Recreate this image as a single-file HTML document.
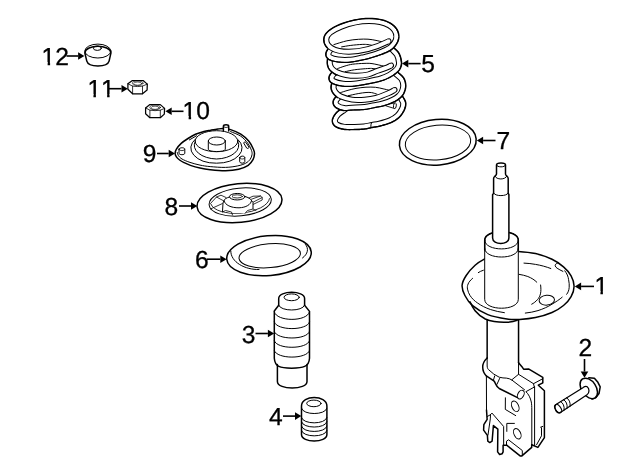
<!DOCTYPE html>
<html lang="en"><head><meta charset="utf-8"><title>Front suspension strut parts diagram</title>
<style>
html,body{margin:0;padding:0;background:#fff;}
body{width:640px;height:471px;overflow:hidden;}
svg{display:block;will-change:transform;}
text{font-family:"Liberation Sans",Arial,Helvetica,sans-serif;font-size:24.6px;fill:#000;font-kerning:none;text-rendering:geometricPrecision;stroke:#000;stroke-width:0.3px;}
.p path,.p ellipse{fill:none;stroke:#000;stroke-linecap:round;stroke-linejoin:round;}
.o{stroke-width:1.5;}
.t{stroke-width:1.0;}
.u{stroke-width:0.8;}
.m{stroke-width:1.25;}
.v{stroke-width:0.6;}
.p path.w,.p ellipse.w{fill:#fff;}
</style></head><body>
<svg width="640" height="471" viewBox="0 0 640 471">
<rect width="640" height="471" fill="#fff"/>
<g class="lbl">
<text x="41.6" y="65" text-anchor="start">12</text>
<text x="87.4" y="97.4" text-anchor="start">11</text>
<text x="182.6" y="119" text-anchor="start">10</text>
<text x="142.8" y="162" text-anchor="start">9</text>
<text x="164.5" y="214.8" text-anchor="start">8</text>
<text x="195.0" y="267.7" text-anchor="start">6</text>
<text x="241.8" y="343.2" text-anchor="start">3</text>
<text x="269.1" y="424.8" text-anchor="start">4</text>
<text x="421.3" y="72.2" text-anchor="start">5</text>
<text x="496.5" y="148.6" text-anchor="start">7</text>
<text x="594.4" y="294" text-anchor="start">1</text>
<text x="578.5" y="356" text-anchor="start">2</text>
</g>
<g class="mk"><rect x="42.27" y="62.00" width="5.36" height="4" fill="#fff"/><rect x="50.11" y="62.00" width="5.17" height="4" fill="#fff"/><rect x="88.07" y="94.00" width="5.36" height="4" fill="#fff"/><rect x="95.91" y="94.00" width="5.17" height="4" fill="#fff"/><rect x="101.76" y="94.00" width="5.36" height="4" fill="#fff"/><rect x="109.59" y="94.00" width="5.17" height="4" fill="#fff"/><rect x="183.27" y="116.00" width="5.36" height="4" fill="#fff"/><rect x="191.11" y="116.00" width="5.17" height="4" fill="#fff"/><rect x="595.07" y="291.00" width="5.36" height="4" fill="#fff"/><rect x="602.91" y="291.00" width="5.17" height="4" fill="#fff"/></g>
<g class="arr">
<path d="M66.50 56.00L78.10 56.00" stroke="#000" stroke-width="1.6" fill="none"/><path d="M84.40 56.00L78.10 59.80L78.10 52.20Z" fill="#000" stroke="none"/>
<path d="M109.00 88.70L121.50 88.70" stroke="#000" stroke-width="1.6" fill="none"/><path d="M127.80 88.70L121.50 92.50L121.50 84.90Z" fill="#000" stroke="none"/>
<path d="M183.50 111.30L171.70 111.30" stroke="#000" stroke-width="1.6" fill="none"/><path d="M165.40 111.30L171.70 107.50L171.70 115.10Z" fill="#000" stroke="none"/>
<path d="M157.00 153.50L168.70 153.50" stroke="#000" stroke-width="1.6" fill="none"/><path d="M175.00 153.50L168.70 157.30L168.70 149.70Z" fill="#000" stroke="none"/>
<path d="M179.00 206.00L191.00 206.00" stroke="#000" stroke-width="1.6" fill="none"/><path d="M197.30 206.00L191.00 209.80L191.00 202.20Z" fill="#000" stroke="none"/>
<path d="M207.00 259.20L220.30 259.20" stroke="#000" stroke-width="1.6" fill="none"/><path d="M226.60 259.20L220.30 263.00L220.30 255.40Z" fill="#000" stroke="none"/>
<path d="M255.50 333.50L267.90 333.50" stroke="#000" stroke-width="1.6" fill="none"/><path d="M274.20 333.50L267.90 337.30L267.90 329.70Z" fill="#000" stroke="none"/>
<path d="M283.00 416.10L295.00 416.10" stroke="#000" stroke-width="1.6" fill="none"/><path d="M301.30 416.10L295.00 419.90L295.00 412.30Z" fill="#000" stroke="none"/>
<path d="M420.60 63.60L408.30 63.60" stroke="#000" stroke-width="1.6" fill="none"/><path d="M402.00 63.60L408.30 59.80L408.30 67.40Z" fill="#000" stroke="none"/>
<path d="M495.50 140.50L483.10 140.50" stroke="#000" stroke-width="1.6" fill="none"/><path d="M476.80 140.50L483.10 136.70L483.10 144.30Z" fill="#000" stroke="none"/>
<path d="M594.00 286.40L581.10 286.40" stroke="#000" stroke-width="1.6" fill="none"/><path d="M574.80 286.40L581.10 282.60L581.10 290.20Z" fill="#000" stroke="none"/>
<path d="M584.50 359.00L584.50 371.50" stroke="#000" stroke-width="1.6" fill="none"/><path d="M584.50 377.80L580.70 371.50L588.30 371.50Z" fill="#000" stroke="none"/>
</g>
<g class="p" id="p12">
<path class="o" d="M84.9 53.2 L86.8 61.1 C88.5 67.5 107.3 67.5 109.1 61.1 L110.9 53.2"/>
<ellipse class="t" cx="97.9" cy="51.05" rx="13.05" ry="6.95"/>
<path class="o" d="M84.9 52.5 A13.05 6.95 0 0 1 110.9 52.5"/>
<ellipse class="t" cx="97.4" cy="48.2" rx="4.0" ry="2.2"/>
</g>
<g class="p" id="p11">
<path class="m" d="M127.9 83.8 L132.4 80.5 L143.1 80.5 L147.3 84.1 L147.1 90.1 L142.5 93.8 L132.6 93.8 L127.9 89.3 Z"/>
<path class="u" d="M127.9 83.8 L132.6 86.1 Q137.5 87 142.5 86.1 L147.3 84.1 M132.6 86.1 V93.8 M142.5 86.1 V93.8"/>
<ellipse class="v" cx="137.7" cy="83.2" rx="5.4" ry="2.4"/>
<ellipse class="v" cx="137.7" cy="83.6" rx="4.0" ry="1.6"/>
</g>
<g class="p" id="p10">
<path class="m" d="M145.6 107.9 L149.9 104.6 L160.3 104.6 L164.6 108.4 L164.3 114.1 L160.3 117.7 L149.9 117.7 L145.6 113.7 Z"/>
<path class="u" d="M145.6 107.9 L149.9 110.2 Q155 111.1 160.3 110.2 L164.6 108.4 M149.9 110.2 V117.7 M160.3 110.2 V117.7"/>
<ellipse class="v" cx="155.1" cy="107.4" rx="5.4" ry="2.4"/>
<ellipse class="v" cx="155.1" cy="107.8" rx="4.0" ry="1.6"/>
</g>
<g class="p" id="p9">
<path class="o" d="M175.10 153.30C175.10 152.02 175.38 150.85 176.40 149.20C177.42 147.55 179.27 145.18 181.20 143.40C183.13 141.62 185.62 140.02 188.00 138.50C190.38 136.98 192.83 135.47 195.50 134.30C198.17 133.13 201.45 132.18 204.00 131.50C206.55 130.82 208.47 130.62 210.80 130.20C213.13 129.78 215.90 129.27 218.00 129.00C220.10 128.73 221.30 128.50 223.40 128.60C225.50 128.70 227.70 128.67 230.60 129.60C233.50 130.53 237.75 132.25 240.80 134.20C243.85 136.15 246.78 138.75 248.90 141.30C251.02 143.85 252.57 147.45 253.50 149.50C254.43 151.55 254.58 151.90 254.50 153.60C254.42 155.30 254.05 157.75 253.00 159.70C251.95 161.65 250.58 163.72 248.20 165.30C245.82 166.88 242.48 168.30 238.70 169.20C234.92 170.10 230.25 170.62 225.50 170.70C220.75 170.78 214.45 170.13 210.20 169.70C205.95 169.27 203.30 168.82 200.00 168.10C196.70 167.38 193.07 166.32 190.40 165.40C187.73 164.48 185.80 163.50 184.00 162.60C182.20 161.70 180.87 160.95 179.60 160.00C178.33 159.05 177.15 158.02 176.40 156.90C175.65 155.78 175.10 154.58 175.10 153.30Z"/>
<path class="t" d="M177.30 152.50C177.48 153.00 177.62 154.42 178.40 155.50C179.18 156.58 180.07 157.85 182.00 159.00C183.93 160.15 187.00 161.38 190.00 162.40C193.00 163.42 196.63 164.40 200.00 165.10C203.37 165.80 205.95 166.22 210.20 166.60C214.45 166.98 220.92 167.52 225.50 167.40C230.08 167.28 234.33 166.60 237.70 165.90C241.07 165.20 243.62 164.30 245.70 163.20C247.78 162.10 249.15 160.73 250.20 159.30C251.25 157.87 251.78 156.07 252.00 154.60C252.22 153.13 252.18 152.37 251.50 150.50C250.82 148.63 249.68 145.78 247.90 143.40C246.12 141.02 243.68 138.17 240.80 136.20C237.92 134.23 232.30 132.37 230.60 131.60"/>
<path class="t" d="M189.4 139.9 L196.5 135.8"/>
<path class="t" d="M195.3 139.2 A25.6 15.3 0 0 0 216.5 163.2 A25.6 15.3 0 0 0 238 139.6"/>
<path class="t" d="M195.2 141.5 A23.4 13.5 0 0 0 216.5 159 A23.4 13.5 0 0 0 237.8 141.5"/>
<ellipse class="t" cx="216.5" cy="141.2" rx="21.3" ry="10.5"/>
<path class="t w" d="M208.3 141 V149.3 C208.3 152.3 225.3 152.3 225.3 149.3 V141 Z"/>
<ellipse class="t w" cx="216.8" cy="141" rx="8.5" ry="4"/>
<path class="o w" d="M223.4 131 V126.2 C223.4 124.4 228.7 124.4 228.7 126.2 V131"/>
<path class="u" d="M223.4 126.4 C223.4 128 228.7 128 228.7 126.400"/>
<path class="t w" d="M179 149.2 V153.2 C179 155.2 184.8 155.2 184.8 153.2 V149.2 C184.8 147.2 179 147.2 179 149.2 Z"/>
<path class="u" d="M179 149.2 C179 151.2 184.8 151.2 184.8 149.2"/>
<path class="t w" d="M239.7 157.6 V161.7 C239.7 163.700 244.8 163.700 244.8 161.7 V157.6 C244.8 155.6 239.7 155.6 239.7 157.6 Z"/>
<path class="u" d="M239.7 157.6 C239.7 159.6 244.8 159.6 244.8 157.600"/>
<path class="t" d="M243.8 142.6 C244.3 141.6 245.5 141.8 246 142.6 L248.9 147 C249.3 148 248 149 247 148.3 Z"/>
</g>
<g class="p" id="p8">
<ellipse class="o" cx="239.5" cy="203" rx="42.6" ry="19.4" transform="rotate(-5.4 239.5 203)"/>
<ellipse class="t" cx="240.2" cy="202" rx="31.2" ry="13.9" transform="rotate(-5.4 240.2 202)"/>
<path class="u" d="M-29.4 -1 A29.6 13.4 0 0 0 29.4 -1" transform="translate(240.3 202.4) rotate(-5.4)"/>
<!-- ribs -->
<path class="u" d="M226 197.5 L221 195.2 L216.5 197 L210.5 203.5 M216.5 197 L223 200.5 M210.5 209 L222.5 203.5"/>
<path class="u" d="M249 198 L253 196.2 L260.5 196 L262.2 197.5 V200 L253 204.5 M251.5 199.2 L260.5 196 M253 202.200 L262.2 197.5"/>
<!-- hub -->
<path fill="#fff" style="stroke:none;fill:#fff" d="M229.5 197 L224 200.5 L222.5 204 L222.5 211 L232 213 L245 213 L253 208.5 L253 202 L251.5 200.5 L245 196.5 Z"/>
<path class="t" d="M229.5 197 C226.5 197.8 224.5 199 224 200.5 C225 205 231 207.9 239 207.8 C246 207.600 251 204.5 251.5 200.5 C250.8 198.8 248 197.2 245 196.5"/>
<path class="t" d="M224 200.5 L223 203 L222.5 211.5 M251.5 200.5 L253 202.5 V208.5"/>
<path class="u" d="M222.5 212 L225.5 210.5 L231.5 212 L232.5 215 M245 213.5 L247.5 210.5 L253 209 L256 210.5"/>
<ellipse class="t w" cx="237.2" cy="196.7" rx="7.75" ry="3.25"/>
<ellipse class="u" cx="237.2" cy="196.4" rx="5.2" ry="1.6"/>
</g>
<g class="p" id="p6">
<ellipse class="o" cx="269" cy="255.6" rx="42.4" ry="19.9" transform="rotate(-5 269 255.6)"/>
<ellipse class="t" cx="269.7" cy="255.7" rx="30.8" ry="11.9" transform="rotate(-5 269.7 255.7)"/>
<path class="t" d="M230.8 251 C230.5 262 245 270 259 269.500"/>
<path class="t" d="M305.500 244.500 C309 248.500 308 254 302.500 258"/>
</g>
<g class="p" id="p3">
<path class="o" d="M278.7 305.2 V298.5 C278.7 290.2 304.6 290.2 304.6 298.5 V305.2 L309.5 311.400 V358.2 C309 367 303 368 291.65 368.200 C280 368 275 367 274.3 358.2 V311 L278.7 305.2"/>
<path class="o" d="M277.4 364.5 V381.400 C277.4 390.3 307 390.3 307 381.400 V364.5"/>
<ellipse class="t" cx="291.65" cy="297.3" rx="7.6" ry="3.4"/>
<path class="t" d="M278.7 305.2 C280.5 311.700 302.8 311.700 304.6 305.2"/>
<path class="t" d="M274.3 311.9 C276.5 322.0 307.3 322.0 309.5 311.9"/>
<path class="t" d="M274.3 322 C276.5 330.9 307.3 330.9 309.5 322"/>
<path class="t" d="M274.3 331.4 C276.5 340.3 307.3 340.3 309.5 331.4"/>
<path class="t" d="M274.3 340.7 C276.5 349.6 307.3 349.6 309.5 340.7"/>
<path class="t" d="M274.3 350.5 C276.5 359.4 307.3 359.4 309.5 350.5"/>
</g>
<g class="p" id="p4">
<path class="o" d="M301.5 406 V434.5 C301.5 443.100 326.9 443.100 326.9 434.5 V406 C326.9 394.700 301.5 394.700 301.5 406 Z"/>
<ellipse class="t" cx="313.9" cy="403.4" rx="7.2" ry="3.3"/>
<path class="t" d="M301.5 408.3 C303 415.4 325.400 415.4 326.9 408.3"/>
<path class="t" d="M301.5 417.6 C303 424.7 325.400 424.7 326.9 417.6"/>
<path class="t" d="M301.5 421.8 C303 428.9 325.400 428.9 326.9 421.8"/>
<path class="t" d="M301.5 426.2 C303 433.3 325.400 433.3 326.9 426.2"/>
<path class="t" d="M301.5 430.6 C303 437.7 325.400 437.7 326.9 430.6"/>
</g>
<g class="p" id="p7">
<ellipse class="o" cx="437.8" cy="142.2" rx="38.5" ry="22.8" transform="rotate(-5 437.8 142.2)"/>
<ellipse class="t" cx="438" cy="142.6" rx="32.8" ry="17.3" transform="rotate(-5 438 142.6)"/>
</g>
<g id="p5"><path d="M333.90 44.60C336.07 43.97 342.82 41.68 346.90 40.80C350.98 39.92 354.88 39.57 358.40 39.30C361.92 39.03 365.07 39.02 368.00 39.20C370.93 39.38 373.57 39.93 376.00 40.40C378.43 40.87 381.50 41.73 382.60 42.00" fill="none" stroke="#000" stroke-width="1.0" stroke-linecap="round"/><path d="M341.60 46.90C343.13 46.65 347.37 45.82 350.80 45.40C354.23 44.98 359.33 44.53 362.20 44.40C365.07 44.27 366.20 44.40 368.00 44.60C369.80 44.80 372.17 45.43 373.00 45.60" fill="none" stroke="#000" stroke-width="1.0" stroke-linecap="round"/><path d="M337.60 68.60C338.83 68.17 342.48 66.73 345.00 66.00C347.52 65.27 349.53 64.63 352.70 64.20C355.87 63.77 360.78 63.50 364.00 63.40C367.22 63.30 368.80 63.17 372.00 63.60C375.20 64.03 381.33 65.60 383.20 66.00" fill="none" stroke="#000" stroke-width="1.0" stroke-linecap="round"/><path d="M345.20 71.70C346.73 71.38 351.02 70.30 354.40 69.80C357.78 69.30 362.63 68.93 365.50 68.70C368.37 68.47 369.93 68.35 371.60 68.40C373.27 68.45 374.85 68.90 375.50 69.00" fill="none" stroke="#000" stroke-width="1.0" stroke-linecap="round"/><path d="M340.60 92.60C341.83 92.22 345.43 91.00 348.00 90.30C350.57 89.60 353.00 88.92 356.00 88.40C359.00 87.88 362.75 87.38 366.00 87.20C369.25 87.02 372.65 87.03 375.50 87.30C378.35 87.57 380.82 88.30 383.10 88.80C385.38 89.30 388.18 90.05 389.20 90.30" fill="none" stroke="#000" stroke-width="1.0" stroke-linecap="round"/><path d="M348.30 95.70C349.95 95.35 355.25 94.13 358.20 93.60C361.15 93.07 363.77 92.67 366.00 92.50C368.23 92.33 369.77 92.32 371.60 92.60C373.43 92.88 376.10 93.93 377.00 94.20" fill="none" stroke="#000" stroke-width="1.0" stroke-linecap="round"/><path d="M346.50 108.60C346.07 108.88 345.28 109.32 343.90 110.30C342.52 111.28 339.70 112.83 338.20 114.50C336.70 116.17 335.10 118.63 334.90 120.30C334.70 121.97 335.43 123.42 337.00 124.50C338.57 125.58 341.37 126.38 344.30 126.80C347.23 127.22 351.32 127.05 354.60 127.00C357.88 126.95 361.10 126.85 364.00 126.50C366.90 126.15 369.45 125.38 372.00 124.90C374.55 124.42 376.30 124.38 379.30 123.60C382.30 122.82 387.00 121.53 390.00 120.20C393.00 118.87 395.32 117.45 397.30 115.60C399.28 113.75 400.92 111.13 401.90 109.10C402.88 107.07 403.33 105.12 403.20 103.40C403.07 101.68 401.80 100.03 401.10 98.80C400.40 97.57 399.35 96.47 399.00 96.00" fill="none" stroke="#000" stroke-width="5.9" stroke-linecap="butt" stroke-linejoin="round"/><path d="M346.50 108.60C346.07 108.88 345.28 109.32 343.90 110.30C342.52 111.28 339.70 112.83 338.20 114.50C336.70 116.17 335.10 118.63 334.90 120.30C334.70 121.97 335.43 123.42 337.00 124.50C338.57 125.58 341.37 126.38 344.30 126.80C347.23 127.22 351.32 127.05 354.60 127.00C357.88 126.95 361.10 126.85 364.00 126.50C366.90 126.15 369.45 125.38 372.00 124.90C374.55 124.42 376.30 124.38 379.30 123.60C382.30 122.82 387.00 121.53 390.00 120.20C393.00 118.87 395.32 117.45 397.30 115.60C399.28 113.75 400.92 111.13 401.90 109.10C402.88 107.07 403.33 105.12 403.20 103.40C403.07 101.68 401.80 100.03 401.10 98.80C400.40 97.57 399.35 96.47 399.00 96.00" fill="none" stroke="#fff" stroke-width="3.9" stroke-linecap="butt" stroke-linejoin="round"/><path d="M345.09 106.44L345.03 106.48L344.96 106.53L344.87 106.59L344.76 106.65L344.63 106.73L344.50 106.81L344.35 106.91L344.18 107.01L344.01 107.12L343.82 107.24L343.61 107.38L343.40 107.52L343.17 107.67L342.93 107.84L342.68 108.01L342.41 108.20L342.18 108.36L341.90 108.54L341.59 108.75L341.25 108.97L340.87 109.21L340.48 109.46L340.07 109.73L339.65 110.01L339.22 110.30L338.79 110.61L338.36 110.93L337.93 111.26L337.50 111.61L337.08 111.98L336.68 112.37L336.29 112.78L335.96 113.15L335.64 113.53L335.32 113.93L335.01 114.34L334.71 114.77L334.41 115.20L334.12 115.64L333.85 116.09L333.59 116.54L333.34 117.00L333.11 117.47L332.91 117.95L332.72 118.43L332.56 118.93L332.43 119.45L332.34 119.99L332.30 120.48L332.29 120.97L332.32 121.45L332.38 121.93L332.48 122.41L332.62 122.88L332.78 123.33L332.99 123.77L333.22 124.20L333.48 124.60L333.77 124.99L334.08 125.35L334.41 125.70L334.77 126.03L335.14 126.33L335.54 126.62L335.97 126.90L336.41 127.15L336.87 127.39L337.35 127.61L337.84 127.82L338.34 128.01L338.85 128.19L339.38 128.36L339.92 128.52L340.47 128.67L341.03 128.81L341.60 128.93L342.18 129.05L342.76 129.16L343.35 129.26L343.94 129.35L344.57 129.43L345.22 129.50L345.88 129.55L346.56 129.59L347.24 129.61L347.93 129.63L348.62 129.65L349.31 129.65L350.01 129.65L350.70 129.64L351.39 129.63L352.06 129.62L352.73 129.61L353.39 129.60L354.02 129.59L354.64 129.57L355.26 129.56L355.88 129.55L356.50 129.54L357.12 129.52L357.73 129.51L358.35 129.49L358.96 129.46L359.57 129.43L360.17 129.40L360.78 129.37L361.37 129.33L361.97 129.29L362.56 129.24L363.15 129.18L363.73 129.12L364.31 129.06L364.90 128.98L365.47 128.89L366.04 128.80L366.59 128.70L367.13 128.60L367.66 128.49L368.18 128.38L368.69 128.26L369.20 128.15L369.69 128.04L370.17 127.92L370.65 127.82L371.12 127.71L371.58 127.61L372.03 127.52L372.48 127.43L372.91 127.35L373.34 127.28L373.75 127.21L374.17 127.15L374.58 127.09L375.00 127.03L375.42 126.97L375.86 126.91L376.30 126.84L376.77 126.77L377.24 126.69L377.74 126.59L378.26 126.49L378.80 126.37L379.36 126.24L379.95 126.09L380.54 125.94L381.16 125.77L381.82 125.59L382.50 125.41L383.21 125.21L383.93 125.01L384.66 124.79L385.40 124.57L386.14 124.34L386.88 124.10L387.62 123.86L388.34 123.61L389.05 123.36L389.74 123.10L390.40 122.83L391.05 122.55L391.63 122.29L392.21 122.02L392.77 121.74L393.32 121.46L393.85 121.18L394.38 120.88L394.89 120.58L395.40 120.28L395.89 119.96L396.37 119.64L396.84 119.30L397.31 118.96L397.76 118.61L398.20 118.24L398.63 117.87L399.06 117.48L399.49 117.06L399.91 116.63L400.31 116.19L400.70 115.74L401.07 115.28L401.43 114.81L401.77 114.34L402.10 113.87L402.42 113.40L402.72 112.93L403.00 112.46L403.28 112.00L403.53 111.54L403.78 111.09L404.01 110.65L404.22 110.22L404.42 109.78L404.62 109.34L404.79 108.90L404.96 108.47L405.11 108.03L405.25 107.59L405.37 107.15L405.48 106.71L405.57 106.27L405.65 105.83L405.71 105.39L405.76 104.95L405.79 104.51L405.80 104.07L405.79 103.64L405.77 103.20L405.71 102.68L405.61 102.18L405.49 101.71L405.34 101.26L405.18 100.84L405.00 100.44L404.82 100.06L404.63 99.70L404.44 99.36L404.25 99.03L404.07 98.73L403.90 98.44L403.73 98.18L403.58 97.94L403.45 97.72L403.34 97.53L403.16 97.23L402.99 96.95L402.80 96.67L402.62 96.41L402.44 96.16L402.26 95.93L402.09 95.71L401.92 95.49L401.76 95.30L401.61 95.12L401.47 94.95L401.35 94.80L401.24 94.67L401.15 94.57L401.09 94.49L401.06 94.45" fill="none" stroke="#000" stroke-width="1.45" stroke-linecap="butt" stroke-linejoin="round"/><path d="M371.7 122.2 C371 124 370.7 125.6 370.9 127" fill="none" stroke="#000" stroke-width="1"/><path d="M384.5 105.3 L394.2 102.9 L394.8 108.6 L388 106.500 Z" fill="#fff" stroke="#000" stroke-width="0.9" stroke-linejoin="round"/><ellipse cx="394.9" cy="105.7" rx="1.4" ry="2.9" transform="rotate(8 394.9 105.7)" fill="#fff" stroke="#000" stroke-width="0.9"/><path d="M340.50 96.00C340.25 96.17 339.80 96.05 339.00 97.00C338.20 97.95 335.97 100.28 335.70 101.70C335.43 103.12 336.02 104.45 337.40 105.50C338.78 106.55 341.57 107.65 344.00 108.00C346.43 108.35 348.55 107.77 352.00 107.60C355.45 107.43 360.70 107.47 364.70 107.00C368.70 106.53 372.93 105.40 376.00 104.80C379.07 104.20 380.32 104.25 383.10 103.40C385.88 102.55 390.15 100.92 392.70 99.70C395.25 98.48 396.90 97.40 398.40 96.10C399.90 94.80 400.90 93.62 401.70 91.90C402.50 90.18 403.23 87.90 403.20 85.80C403.17 83.70 402.72 81.27 401.50 79.30C400.28 77.33 397.23 75.22 395.90 74.00C394.57 72.78 393.90 72.33 393.50 72.00" fill="none" stroke="#000" stroke-width="5.9" stroke-linecap="butt" stroke-linejoin="round"/><path d="M340.50 96.00C340.25 96.17 339.80 96.05 339.00 97.00C338.20 97.95 335.97 100.28 335.70 101.70C335.43 103.12 336.02 104.45 337.40 105.50C338.78 106.55 341.57 107.65 344.00 108.00C346.43 108.35 348.55 107.77 352.00 107.60C355.45 107.43 360.70 107.47 364.70 107.00C368.70 106.53 372.93 105.40 376.00 104.80C379.07 104.20 380.32 104.25 383.10 103.40C385.88 102.55 390.15 100.92 392.70 99.70C395.25 98.48 396.90 97.40 398.40 96.10C399.90 94.80 400.90 93.62 401.70 91.90C402.50 90.18 403.23 87.90 403.20 85.80C403.17 83.70 402.72 81.27 401.50 79.30C400.28 77.33 397.23 75.22 395.90 74.00C394.57 72.78 393.90 72.33 393.50 72.00" fill="none" stroke="#fff" stroke-width="3.9" stroke-linecap="butt" stroke-linejoin="round"/><path d="M339.07 93.86L339.31 93.72L339.47 93.65L339.54 93.63L339.52 93.63L339.44 93.66L339.29 93.70L339.11 93.77L338.89 93.86L338.66 93.97L338.42 94.11L338.18 94.27L337.94 94.45L337.71 94.64L337.48 94.86L337.25 95.09L337.03 95.34L336.89 95.51L336.70 95.72L336.49 95.97L336.24 96.25L335.98 96.55L335.70 96.88L335.42 97.22L335.13 97.58L334.84 97.96L334.55 98.35L334.27 98.76L334.01 99.18L333.76 99.62L333.53 100.10L333.33 100.62L333.17 101.22L333.10 101.67L333.07 102.13L333.07 102.58L333.10 103.04L333.17 103.49L333.27 103.93L333.41 104.36L333.58 104.78L333.78 105.19L334.00 105.58L334.26 105.95L334.53 106.31L334.83 106.65L335.15 106.96L335.49 107.27L335.84 107.55L336.23 107.83L336.63 108.09L337.05 108.33L337.49 108.57L337.94 108.80L338.41 109.01L338.89 109.22L339.38 109.42L339.89 109.60L340.41 109.78L340.93 109.94L341.47 110.10L342.00 110.23L342.54 110.35L343.09 110.46L343.63 110.55L344.20 110.62" fill="none" stroke="#000" stroke-width="1.45" stroke-linecap="butt" stroke-linejoin="round"/><path d="M344.21 110.49L344.76 110.54L345.30 110.56L345.82 110.56L346.34 110.54L346.85 110.52L347.36 110.48L347.86 110.43L348.36 110.38L348.86 110.33L349.36 110.27L349.88 110.22L350.41 110.17L350.96 110.12L351.53 110.08L352.12 110.05L352.76 110.02L353.45 109.99L354.18 109.97L354.94 109.95L355.73 109.93L356.54 109.91L357.38 109.89L358.22 109.86L359.08 109.83L359.94 109.80L360.80 109.76L361.66 109.71L362.51 109.66L363.35 109.59L364.18 109.52L364.98 109.43L365.78 109.33L366.58 109.22L367.37 109.09L368.16 108.96L368.94 108.81L369.71 108.66L370.47 108.50L371.21 108.35L371.95 108.19L372.66 108.03L373.36 107.87L374.03 107.72L374.69 107.58L375.31 107.44L375.91 107.32L376.47 107.20L377.00 107.10L377.49 107.02L377.95 106.94L378.39 106.87L378.82 106.80L379.23 106.74L379.64 106.68L380.05 106.61L380.46 106.54L380.89 106.47L381.33 106.38L381.78 106.28L382.25 106.17L382.75 106.05L383.27 105.91L383.82 105.74L384.38 105.57L384.98 105.37L385.59 105.17L386.23 104.95L386.88 104.72L387.53 104.48L388.20 104.23L388.87 103.97L389.53 103.72L390.19 103.45L390.84 103.19L391.47 102.93L392.08 102.67L392.66 102.41L393.23 102.16L393.76 101.91" fill="none" stroke="#000" stroke-width="1.2" stroke-linecap="butt" stroke-linejoin="round"/><path d="M393.81 102.02L394.31 101.78L394.78 101.54L395.24 101.31L395.69 101.07L396.12 100.83L396.53 100.59L396.94 100.35L397.33 100.10L397.71 99.86L398.07 99.61L398.43 99.36L398.78 99.10L399.12 98.84L399.45 98.58L399.77 98.32L400.09 98.05L400.39 97.78L400.69 97.50L400.98 97.23L401.27 96.95L401.54 96.66L401.81 96.37L402.07 96.07L402.32 95.76L402.57 95.45L402.80 95.12L403.03 94.79L403.25 94.45L403.46 94.10L403.66 93.74L403.85 93.37L404.03 92.99L404.20 92.61L404.37 92.22L404.53 91.82L404.69 91.41L404.84 90.99L404.99 90.55L405.12 90.11L405.25 89.66L405.37 89.19L405.47 88.72L405.56 88.25L405.64 87.76L405.70 87.27L405.75 86.77L405.77 86.27L405.77 85.76L405.76 85.30L405.74 84.83L405.70 84.35L405.65 83.87L405.58 83.38L405.50 82.89L405.41 82.40L405.30 81.90L405.17 81.40L405.02 80.90L404.85 80.40L404.67 79.90L404.46 79.40L404.23 78.91L403.97 78.42L403.69 77.95L403.34 77.42L402.96 76.93L402.56 76.47L402.15 76.02L401.72 75.60L401.29 75.19L400.86 74.79L400.42 74.41L399.99 74.05L399.57 73.70L399.17 73.38L398.79 73.07L398.44 72.78L398.12 72.52L397.85 72.29L397.64 72.10L397.38 71.86L397.13 71.65L396.91 71.45L396.69 71.26L396.49 71.09L396.30 70.93L396.12 70.79L395.96 70.66L395.81 70.54L395.67 70.43L395.54 70.33L395.43 70.25L395.34 70.17L395.26 70.11L395.19 70.06L395.15 70.02" fill="none" stroke="#000" stroke-width="1.45" stroke-linecap="butt" stroke-linejoin="round"/><path d="M335.00 82.00C334.83 82.42 334.22 83.42 334.00 84.50C333.78 85.58 333.37 87.12 333.70 88.50C334.03 89.88 334.78 91.47 336.00 92.80C337.22 94.13 338.33 95.37 341.00 96.50C343.67 97.63 348.05 99.07 352.00 99.60C355.95 100.13 360.70 99.98 364.70 99.70C368.70 99.42 372.12 98.95 376.00 97.90C379.88 96.85 384.92 94.72 388.00 93.40C391.08 92.08 393.42 90.57 394.50 90.00" fill="none" stroke="#000" stroke-width="5.9" stroke-linecap="butt" stroke-linejoin="round"/><path d="M335.00 82.00C334.83 82.42 334.22 83.42 334.00 84.50C333.78 85.58 333.37 87.12 333.70 88.50C334.03 89.88 334.78 91.47 336.00 92.80C337.22 94.13 338.33 95.37 341.00 96.50C343.67 97.63 348.05 99.07 352.00 99.60C355.95 100.13 360.70 99.98 364.70 99.70C368.70 99.42 372.12 98.95 376.00 97.90C379.88 96.85 384.92 94.72 388.00 93.40C391.08 92.08 393.42 90.57 394.50 90.00" fill="none" stroke="#fff" stroke-width="3.9" stroke-linecap="butt" stroke-linejoin="round"/><path d="M332.61 81.04L332.62 81.03L332.60 81.07L332.56 81.15L332.50 81.26L332.43 81.40L332.36 81.55L332.27 81.73L332.18 81.92L332.09 82.13L331.99 82.35L331.90 82.59L331.80 82.84L331.71 83.11L331.62 83.39L331.54 83.68L331.48 84.00L331.44 84.18L331.39 84.39L331.34 84.62L331.29 84.88L331.24 85.15L331.19 85.43L331.14 85.74L331.09 86.06L331.05 86.39L331.02 86.74L331.00 87.10L331.00 87.48L331.02 87.86L331.05 88.27L331.11 88.68L331.20 89.10L331.28 89.44L331.38 89.78L331.49 90.13L331.62 90.47L331.75 90.82L331.90 91.16L332.06 91.51L332.23 91.85L332.42 92.20L332.62 92.54L332.83 92.88L333.05 93.22L333.29 93.56L333.55 93.89L333.82 94.21L334.10 94.54L334.33 94.79L334.57 95.05L334.82 95.32L335.09 95.59L335.37 95.87L335.67 96.16L336.00 96.44L336.34 96.73L336.71 97.01L337.10 97.30L337.51 97.57L337.95 97.85" fill="none" stroke="#000" stroke-width="1.45" stroke-linecap="butt" stroke-linejoin="round"/><g transform="translate(394.50 90.00) rotate(-27.6)"><path d="M-0.3 -2.45 C1.82 -2.45 2.60 -1.47 2.60 -0.25 C2.60 1.23 1.30 2.45 -0.3 2.45" fill="#fff" stroke="#000" stroke-width="1.0" stroke-linejoin="round"/><path d="M-0.5 -1.9500000000000002 L-0.5 1.9500000000000002" stroke="#fff" stroke-width="1.2" fill="none"/></g><path d="M335.50 72.00C335.25 72.25 334.67 72.53 334.00 73.50C333.33 74.47 331.55 76.52 331.50 77.80C331.45 79.08 331.78 80.22 333.70 81.20C335.62 82.18 339.62 83.28 343.00 83.70C346.38 84.12 349.83 84.08 354.00 83.70C358.17 83.32 363.50 82.28 368.00 81.40C372.50 80.52 377.50 79.47 381.00 78.40C384.50 77.33 386.67 76.27 389.00 75.00C391.33 73.73 393.53 72.05 395.00 70.80C396.47 69.55 397.13 68.83 397.80 67.50C398.47 66.17 399.15 64.92 399.00 62.80C398.85 60.68 398.07 57.02 396.90 54.80C395.73 52.58 393.15 50.72 392.00 49.50C390.85 48.28 390.33 47.83 390.00 47.50" fill="none" stroke="#000" stroke-width="5.9" stroke-linecap="butt" stroke-linejoin="round"/><path d="M335.50 72.00C335.25 72.25 334.67 72.53 334.00 73.50C333.33 74.47 331.55 76.52 331.50 77.80C331.45 79.08 331.78 80.22 333.70 81.20C335.62 82.18 339.62 83.28 343.00 83.70C346.38 84.12 349.83 84.08 354.00 83.70C358.17 83.32 363.50 82.28 368.00 81.40C372.50 80.52 377.50 79.47 381.00 78.40C384.50 77.33 386.67 76.27 389.00 75.00C391.33 73.73 393.53 72.05 395.00 70.80C396.47 69.55 397.13 68.83 397.80 67.50C398.47 66.17 399.15 64.92 399.00 62.80C398.85 60.68 398.07 57.02 396.90 54.80C395.73 52.58 393.15 50.72 392.00 49.50C390.85 48.28 390.33 47.83 390.00 47.50" fill="none" stroke="#fff" stroke-width="3.9" stroke-linecap="butt" stroke-linejoin="round"/><path d="M333.68 70.18L333.74 70.12L333.76 70.10L333.74 70.12L333.69 70.16L333.60 70.22L333.50 70.31L333.37 70.41L333.23 70.53L333.08 70.66L332.92 70.81L332.75 70.97L332.58 71.15L332.41 71.35L332.23 71.56L332.06 71.79L331.88 72.04L331.78 72.18L331.64 72.37L331.47 72.60L331.28 72.85L331.07 73.13L330.85 73.43L330.62 73.75L330.38 74.09L330.15 74.45L329.92 74.82L329.70 75.20L329.49 75.62L329.30 76.06L329.13 76.54L329.00 77.08L328.93 77.70L328.92 78.04L328.93 78.41L328.96 78.79L329.02 79.19L329.11 79.60L329.24 80.02L329.40 80.45L329.61 80.87L329.87 81.28L330.16 81.66L330.48 82.03L330.84 82.37L331.22 82.68L331.63 82.97L332.06 83.24L332.52 83.49L333.01 83.73L333.52 83.95L334.06 84.16L334.62 84.37L335.22 84.58L335.83 84.77L336.47 84.96L337.13 85.15L337.80 85.32L338.49 85.49L339.18 85.65L339.88 85.80" fill="none" stroke="#000" stroke-width="1.45" stroke-linecap="butt" stroke-linejoin="round"/><path d="M339.91 85.67L340.61 85.81L341.31 85.93L342.01 86.04L342.70 86.13L343.38 86.21L344.05 86.28L344.74 86.33L345.42 86.38L346.11 86.41L346.80 86.43L347.50 86.45L348.21 86.45L348.93 86.44L349.65 86.43L350.38 86.40L351.13 86.37L351.88 86.32L352.65 86.27L353.43 86.21L354.22 86.14L355.06 86.06L355.91 85.96L356.77 85.85L357.66 85.73L358.55 85.60L359.46 85.46L360.37 85.31L361.29 85.15L362.21 84.99L363.13 84.83L364.05 84.66L364.96 84.49L365.86 84.31L366.74 84.14L367.62 83.97L368.47 83.80L369.33 83.64L370.19 83.46L371.06 83.29L371.93 83.11L372.81 82.92L373.68 82.74L374.55 82.55L375.41 82.36L376.26 82.16L377.10 81.97L377.92 81.77L378.73 81.57L379.51 81.37L380.27 81.16L381.01 80.95L381.71 80.74L382.39 80.53L383.03 80.32L383.65 80.11L384.25 79.90L384.82 79.68L385.37 79.46L385.91 79.24L386.42 79.02L386.93 78.79L387.41 78.57L387.89 78.34L388.36 78.10L388.82 77.87L389.27 77.63L389.72 77.39L390.17 77.15L390.65 76.89L391.12 76.61L391.58 76.34L392.03 76.05L392.48 75.76L392.91 75.47" fill="none" stroke="#000" stroke-width="1.2" stroke-linecap="butt" stroke-linejoin="round"/><path d="M392.98 75.57L393.41 75.28L393.83 74.99L394.23 74.69L394.62 74.40L395.00 74.11L395.36 73.83L395.71 73.55L396.05 73.28L396.37 73.01L396.67 72.76L396.95 72.52L397.22 72.28L397.48 72.05L397.73 71.82L397.97 71.58L398.21 71.35L398.43 71.11L398.65 70.86L398.86 70.61L399.06 70.35L399.26 70.08L399.44 69.81L399.62 69.53L399.79 69.24L399.95 68.95L400.10 68.65L400.23 68.41L400.36 68.15L400.49 67.87L400.63 67.58L400.77 67.27L400.90 66.94L401.04 66.59L401.16 66.22L401.28 65.83L401.38 65.42L401.46 65.00L401.53 64.55L401.57 64.09L401.59 63.62L401.59 63.12L401.57 62.62L401.53 62.13L401.47 61.62L401.40 61.09L401.31 60.55L401.21 59.98L401.10 59.40L400.97 58.81L400.83 58.22L400.68 57.62L400.51 57.02L400.33 56.43L400.13 55.84L399.92 55.26L399.69 54.69L399.45 54.14L399.18 53.60L398.86 53.04L398.52 52.52L398.15 52.02L397.78 51.55L397.39 51.11L397.00 50.69L396.61 50.29L396.22 49.92L395.85 49.56L395.48 49.22L395.14 48.91L394.81 48.62L394.52 48.35L394.26 48.11L394.04 47.90L393.87 47.73L393.65 47.50L393.45 47.29L393.26 47.09L393.08 46.91L392.92 46.75L392.76 46.59L392.62 46.45L392.49 46.32L392.37 46.21L392.26 46.10L392.16 46.00L392.07 45.92L391.99 45.84L391.92 45.78L391.87 45.72L391.82 45.68" fill="none" stroke="#000" stroke-width="1.45" stroke-linecap="butt" stroke-linejoin="round"/><path d="M330.50 58.00C330.40 58.42 329.98 59.43 329.90 60.50C329.82 61.57 329.68 63.08 330.00 64.40C330.32 65.72 330.63 67.10 331.80 68.40C332.97 69.70 334.63 71.10 337.00 72.20C339.37 73.30 342.67 74.40 346.00 75.00C349.33 75.60 353.33 75.88 357.00 75.80C360.67 75.72 364.58 75.33 368.00 74.50C371.42 73.67 374.33 71.97 377.50 70.80C380.67 69.63 384.75 68.38 387.00 67.50C389.25 66.62 390.33 65.83 391.00 65.50" fill="none" stroke="#000" stroke-width="5.9" stroke-linecap="butt" stroke-linejoin="round"/><path d="M330.50 58.00C330.40 58.42 329.98 59.43 329.90 60.50C329.82 61.57 329.68 63.08 330.00 64.40C330.32 65.72 330.63 67.10 331.80 68.40C332.97 69.70 334.63 71.10 337.00 72.20C339.37 73.30 342.67 74.40 346.00 75.00C349.33 75.60 353.33 75.88 357.00 75.80C360.67 75.72 364.58 75.33 368.00 74.50C371.42 73.67 374.33 71.97 377.50 70.80C380.67 69.63 384.75 68.38 387.00 67.50C389.25 66.62 390.33 65.83 391.00 65.50" fill="none" stroke="#fff" stroke-width="3.9" stroke-linecap="butt" stroke-linejoin="round"/><path d="M328.00 57.40L328.00 57.39L327.98 57.44L327.96 57.52L327.92 57.63L327.88 57.77L327.83 57.93L327.78 58.10L327.72 58.29L327.66 58.50L327.60 58.72L327.55 58.95L327.49 59.19L327.44 59.45L327.40 59.72L327.36 60.00L327.33 60.30L327.32 60.50L327.30 60.73L327.28 60.96L327.27 61.22L327.25 61.48L327.24 61.76L327.23 62.04L327.23 62.34L327.23 62.65L327.23 62.96L327.25 63.28L327.27 63.61L327.31 63.95L327.36 64.30L327.42 64.65L327.50 65.00L327.56 65.25L327.62 65.52L327.69 65.79L327.77 66.08L327.85 66.38L327.95 66.70L328.06 67.02L328.18 67.35L328.32 67.69L328.48 68.03L328.66 68.38L328.86 68.73L329.08 69.08L329.32 69.43L329.59 69.78L329.88 70.12L330.15 70.41L330.42 70.70L330.72 70.99L331.02 71.28L331.34 71.57L331.68 71.86L332.03 72.14L332.40 72.43L332.78 72.71L333.18 72.99L333.59 73.26L334.02 73.53L334.47 73.79L334.93 74.05L335.42 74.30L335.91 74.54L336.41 74.76L336.93 74.98L337.46 75.20" fill="none" stroke="#000" stroke-width="1.45" stroke-linecap="butt" stroke-linejoin="round"/><g transform="translate(391.00 65.50) rotate(-26.6)"><path d="M-0.3 -2.45 C1.82 -2.45 2.60 -1.47 2.60 -0.25 C2.60 1.23 1.30 2.45 -0.3 2.45" fill="#fff" stroke="#000" stroke-width="1.0" stroke-linejoin="round"/><path d="M-0.5 -1.9500000000000002 L-0.5 1.9500000000000002" stroke="#fff" stroke-width="1.2" fill="none"/></g><path d="M332.00 48.00C331.83 48.17 331.60 48.03 331.00 49.00C330.40 49.97 328.52 52.42 328.40 53.80C328.28 55.18 328.70 56.35 330.30 57.30C331.90 58.25 334.88 59.08 338.00 59.50C341.12 59.92 345.00 60.13 349.00 59.80C353.00 59.47 358.85 58.10 362.00 57.50C365.15 56.90 364.78 57.12 367.90 56.20C371.02 55.28 376.80 53.63 380.70 52.00C384.60 50.37 388.70 48.98 391.30 46.40C393.90 43.82 396.30 40.50 396.30 36.50" fill="none" stroke="#000" stroke-width="5.9" stroke-linecap="butt" stroke-linejoin="round"/><path d="M332.00 48.00C331.83 48.17 331.60 48.03 331.00 49.00C330.40 49.97 328.52 52.42 328.40 53.80C328.28 55.18 328.70 56.35 330.30 57.30C331.90 58.25 334.88 59.08 338.00 59.50C341.12 59.92 345.00 60.13 349.00 59.80C353.00 59.47 358.85 58.10 362.00 57.50C365.15 56.90 364.78 57.12 367.90 56.20C371.02 55.28 376.80 53.63 380.70 52.00C384.60 50.37 388.70 48.98 391.30 46.40C393.90 43.82 396.30 40.50 396.30 36.50" fill="none" stroke="#fff" stroke-width="3.9" stroke-linecap="butt" stroke-linejoin="round"/><path d="M330.18 46.18L330.40 45.98L330.60 45.85L330.73 45.78L330.75 45.77L330.69 45.80L330.55 45.86L330.38 45.96L330.18 46.09L329.98 46.24L329.79 46.41L329.61 46.59L329.44 46.78L329.27 46.97L329.12 47.18L328.96 47.40L328.81 47.64L328.72 47.79L328.58 47.99L328.42 48.24L328.23 48.52L328.02 48.83L327.79 49.16L327.56 49.52L327.33 49.89L327.09 50.28L326.86 50.68L326.64 51.09L326.43 51.53L326.24 51.98L326.07 52.46L325.92 52.98L325.83 53.58L325.81 53.97L325.81 54.36L325.83 54.76L325.88 55.18L325.95 55.60L326.07 56.02L326.21 56.44L326.40 56.86L326.62 57.26L326.88 57.65L327.17 58.01L327.48 58.36L327.83 58.68L328.19 58.98L328.58 59.26L328.99 59.51L329.41 59.75L329.86 59.98L330.32 60.18L330.80 60.38L331.29 60.57L331.80 60.75L332.33 60.92L332.88 61.08" fill="none" stroke="#000" stroke-width="1.45" stroke-linecap="butt" stroke-linejoin="round"/><path d="M332.91 60.96L333.47 61.11L334.04 61.25L334.62 61.39L335.22 61.51L335.82 61.63L336.43 61.74L337.05 61.84L337.68 61.93L338.30 62.01L338.94 62.08L339.59 62.15L340.26 62.21L340.95 62.26L341.65 62.31L342.36 62.35L343.08 62.38L343.82 62.40L344.56 62.41L345.32 62.41L346.08 62.40L346.85 62.38L347.63 62.35L348.41 62.30L349.20 62.24L350.03 62.16L350.89 62.06L351.77 61.94L352.66 61.80L353.56 61.65L354.47 61.50L355.38 61.33L356.29 61.15L357.18 60.98L358.05 60.80L358.89 60.63L359.70 60.46L360.47 60.31L361.19 60.16L361.86 60.02L362.46 59.91L363.00 59.81L363.46 59.72L363.87 59.65L364.23 59.59L364.55 59.53L364.85 59.48L365.14 59.43L365.43 59.37L365.73 59.31L366.04 59.24L366.37 59.17L366.72 59.08L367.11 58.97L367.55 58.85L368.03 58.71L368.59 58.55L369.20 58.37L369.87 58.17L370.60 57.96L371.36 57.74L372.17 57.50L373.00 57.24L373.86 56.98L374.74 56.71L375.63 56.42L376.52 56.13L377.42 55.83L378.30 55.53L379.17 55.22L380.02 54.90L380.85 54.58L381.65 54.26" fill="none" stroke="#000" stroke-width="1.2" stroke-linecap="butt" stroke-linejoin="round"/><path d="M381.69 54.38L382.41 54.08L383.14 53.78L383.87 53.48L384.61 53.18L385.36 52.87L386.11 52.55L386.85 52.23L387.59 51.88L388.33 51.52L389.06 51.14L389.78 50.74L390.48 50.30L391.17 49.84L391.84 49.34L392.49 48.81L393.11 48.23L393.64 47.69L394.17 47.13L394.68 46.55L395.19 45.94L395.68 45.30L396.15 44.64L396.60 43.95L397.02 43.24L397.41 42.50L397.77 41.72L398.09 40.92L398.36 40.09L398.58 39.23L398.74 38.34L398.84 37.43L398.88 36.50" fill="none" stroke="#000" stroke-width="1.45" stroke-linecap="butt" stroke-linejoin="round"/><path d="M396.30 36.50C396.30 27.50 386.00 21.00 369.00 21.00C352.00 21.00 326.30 30.00 326.30 39.40C326.30 46.00 333.00 51.80 349.00 51.70C362.00 51.60 376.00 47.50 388.50 41.30" fill="none" stroke="#000" stroke-width="5.9" stroke-linecap="butt" stroke-linejoin="round"/><path d="M396.30 36.50C396.30 27.50 386.00 21.00 369.00 21.00C352.00 21.00 326.30 30.00 326.30 39.40C326.30 46.00 333.00 51.80 349.00 51.70C362.00 51.60 376.00 47.50 388.50 41.30" fill="none" stroke="#fff" stroke-width="3.9" stroke-linecap="butt" stroke-linejoin="round"/><path d="M398.88 36.50L398.73 34.47L398.29 32.50L397.57 30.63L396.58 28.87L395.34 27.23L393.88 25.74L392.20 24.37L390.33 23.15L388.26 22.07L386.01 21.12L383.59 20.31L381.00 19.64L378.24 19.12L375.32 18.74L372.24 18.50L369.00 18.43L365.56 18.53L361.99 18.85L358.34 19.35L354.64 20.03L350.94 20.88L347.29 21.87L343.73 23.01L340.32 24.28L337.09 25.68L334.09 27.19L331.37 28.81L328.96 30.56L326.91 32.45L325.27 34.52L324.15 36.84L323.73 39.40L323.83 40.96L324.13 42.50L324.65 44.00L325.39 45.44L326.32 46.80L327.46 48.06" fill="none" stroke="#000" stroke-width="1.45" stroke-linecap="butt" stroke-linejoin="round"/><path d="M396.3 37.6 L396.3 35.4" stroke="#fff" stroke-width="3.6" fill="none"/><g transform="translate(388.50 41.30) rotate(-26.4)"><path d="M-0.3 -2.45 C1.82 -2.45 2.60 -1.47 2.60 -0.25 C2.60 1.23 1.30 2.45 -0.3 2.45" fill="#fff" stroke="#000" stroke-width="1.0" stroke-linejoin="round"/><path d="M-0.5 -1.9500000000000002 L-0.5 1.9500000000000002" stroke="#fff" stroke-width="1.2" fill="none"/></g></g>
<g class="p" id="p1">
<!-- flange -->
<path class="o" d="M501.00 251.50C495.40 252.75 489.02 256.60 484.70 258.90C480.38 261.20 478.18 262.53 475.10 265.30C472.02 268.07 468.37 272.17 466.20 275.50C464.03 278.83 462.32 281.97 462.10 285.30C461.88 288.63 463.15 292.10 464.90 295.50C466.65 298.90 468.78 302.52 472.60 305.70C476.42 308.88 482.07 312.38 487.80 314.60C493.53 316.82 501.68 318.20 507.00 319.00C512.32 319.80 514.95 319.63 519.70 319.40C524.45 319.17 530.12 318.75 535.50 317.60C540.88 316.45 547.33 314.52 552.00 312.50C556.67 310.48 560.32 308.15 563.50 305.50C566.68 302.85 569.33 299.82 571.10 296.60C572.87 293.38 574.10 289.67 574.10 286.20C574.10 282.73 572.87 279.02 571.10 275.80C569.33 272.58 566.68 269.65 563.50 266.90C560.32 264.15 556.67 261.52 552.00 259.30C547.33 257.08 541.12 254.92 535.50 253.60C529.88 252.28 524.05 251.75 518.30 251.40C512.55 251.05 506.60 250.25 501.00 251.50Z"/>
<path class="o" d="M470 301.8 C471.500 305.500 473 308 475.1 310.8 C478 314.500 481.500 317 485.3 319 C488 320.300 491 321.100 494.2 321.6 C498.500 322.200 502.500 322.400 507 322.2 C510.500 322 514 321.500 517.1 320.3"/>
<path class="t" d="M483.4 270.2 C481.500 270.800 479.500 271.800 478.3 272.6"/>
<path class="t" d="M472.6 278.3 C470.500 280.200 468.800 282 468.1 284 C467.300 285.800 467.200 287.500 467.5 289.1 C467.900 291.300 468.800 293.500 470 295.5 C472 298.500 474.500 301 477.7 303.1 C481.500 305.800 485.500 307.800 490.4 309.5 C495 311 499.500 312 504.4 312.7"/>
<path class="t" d="M525.3 313.1 C529.500 312.700 534 311.800 538 310.6 C543 309 548 306.800 552 304.2 C556 301.800 559.500 299.500 562.2 297.200"/>
<path class="t" d="M564.8 270.8 C567 273.500 568.200 276.500 568.6 279.7 C569.200 282.500 569.400 285 569.2 287.3 C569 290 568.200 292.500 566.700 294.300"/>
<path class="t" d="M557.8 262.9 C556 263.600 555 264.600 555.2 265.7 C555.400 266.700 556 267.500 557.1 268.2 C558.800 269.300 560.800 270.400 562.900 271.400"/>
<path class="t" d="M524 263.1 C528 263.300 532 263.700 535.5 264.4 C541 265.300 546 266.700 550.800 268.500"/>
<path class="t" d="M518.9 274.3 C522 274.800 525 275.500 527.8 276.5 C531.500 278 534.500 279.800 536.800 282.200"/>
<path class="t" d="M540.6 285 C541 288 541 291 540.6 293.200 C540 296 539 298 537.4 299.7 C535.800 301.500 534 303 531.700 304.200"/>
<ellipse class="t" cx="546.8" cy="300.2" rx="7.7" ry="4.9" transform="rotate(-5 546.8 300.2)"/>
<!-- lower tube -->
<path class="o" d="M487.15 320 V358 M518.55 320.3 V362.7"/>
<path class="t" d="M518.55 362.7 V374.3"/>
<!-- cylinder -->
<path class="t w" d="M484.7 240.3 V299.300 C484.7 311.200 518.300 311.200 518.300 299.300 V240.3 C518.3 228.700 484.700 228.700 484.700 240.3 Z"/>
<path class="o" d="M484.7 250 V240.3 C484.7 228.700 518.300 228.700 518.300 240.3 V250"/>
<path class="t" d="M484.7 240.3 C484.7 251.900 518.300 251.900 518.300 240.3"/>
<path class="t" d="M484.7 248.5 C484.7 260 518.300 260 518.300 248.5"/>
<!-- rod -->
<path class="o w" d="M492.6 238 C492.6 245.200 508.900 245.200 508.900 238 V194.5 L508.200 193.5 V178.5 C508.2 176.5 505.500 175.700 505.500 174 V165 C505.5 162.200 496.500 162.200 496.500 165 V174 C496.5 175.700 493.600 176.5 493.600 178.5 V193.5 L492.600 194.5 Z"/>
<path class="t" d="M496.5 165 C496.5 167.600 505.500 167.600 505.500 165"/>
<path class="t" d="M495 176.200 C496.200 180 505.500 180 506.700 176.200"/>
<path class="t" d="M493.600 193 C494.500 196.600 507.300 196.600 508.200 193"/>
<!-- bracket -->
<path class="o" d="M487.15 358 C484.5 360.5 482.7 363.5 482.7 367 C482.7 370.5 484 373.5 486.3 375.9 L493.8 380.8 C494.8 382 495.2 383 495.6 383.9 C496.5 386 497.8 387.5 499.2 388.5 L517.5 397.6"/>
<path class="t" d="M487.15 358 V366 C487.3 368 487.8 369 488.5 369.6 L493.8 374.1 L499.2 377.2 C502 378 504 378 506.3 378.1 C508.5 378.3 510.2 379 511.7 379.9 L524.6 389.8"/>
<path class="t" d="M494.7 375.9 L493.4 380.3 M499.6 378.5 L497 384.3"/>
<ellipse class="t" cx="520.8" cy="394.6" rx="3" ry="4.7" transform="rotate(28 520.8 394.6)"/>
<path class="t" d="M486.4 376 L486.5 410"/>
<path class="o" d="M486.5 410 L487.15 419.4 L483.85 424.7 L483.6 430.1 L487.4 435.4 L487.8 441.2 L489.8 442.6 L492.1 441.2 L493.4 425.6 L497.85 429.2 L497.6 451.9 L499.6 454.5 L502.2 453.7 L503.1 451.9 L503.1 445.2 L506.7 445.2 L520.1 455.9 L521.9 455.9 L531.7 447.4 L531.7 444.700"/>
<path class="t" d="M487.15 416.6 L490.3 414.8 L492 413.1 L503.65 426.5 V445.2 M490.5 414.5 L490.3 418.9 L488 435"/>
<path class="o" d="M518.55 362.7 L521.9 366.7 L523.6 369.2 L528.5 368.9 L542.8 377.4 V382.8 L538.3 385.2 L544.4 390.7 V437.6 L537.9 447.4 L531.7 444.7"/>
<path class="t" d="M511.7 379.9 L518.55 374.3 L533.5 383.7 L542.8 378.7 M533.5 383.7 L534.3 387"/>
<path class="t" d="M534.6 386.9 L525.9 391.7 C528.5 394 530.5 398 531.3 402 C531.7 404.5 531.8 406.5 531.8 410 V444.7 M534.6 386.9 V445.5"/>
<path class="t" d="M541.5 427.8 V435.8 L536.6 444.7 M540.6 427.2 L542.8 426.4"/>
<path class="t" d="M505.4 397.8 L505.3 409.4 L515.7 415.6"/>
<ellipse class="t" cx="515.25" cy="406.3" rx="3.3" ry="5.6" transform="rotate(-25 515.25 406.3)"/>
<path class="t" d="M506.8 431.4 V423.4 H514.4"/>
<ellipse class="t" cx="517.3" cy="433.7" rx="3.3" ry="5.5" transform="rotate(-25 517.3 433.7)"/>
<path class="t" d="M506.5 445 V441.2 L508.5 439.8 L522.3 450.5 V455.400"/>
</g>
<g class="p" id="p2">
<path class="o" d="M588.8 377.7 L594.4 378.2 L597.9 382.3 L600.2 386.9 L599 393.5 L595.9 397.6 L592 399"/>
<ellipse class="o w" cx="588.8" cy="388.4" rx="7.3" ry="11.3" transform="rotate(-33.7 588.8 388.4)"/>
<path class="m w" d="M582.9 387.7 L556.4 404.3 C553.5 406.4 555.8 413.300 559.5 412.8 L561.2 411.9 L587 394.7 C589.6 392.8 589.6 388.5 587.200 386.7 C585.5 385.700 584 386.900 582.900 387.700 Z"/>
<ellipse class="t" cx="558.1" cy="408.6" rx="2.7" ry="4.8" transform="rotate(-33.7 558.1 408.6)"/>
<path class="t" d="M560.50 401.50 C563.20 403.00 564.60 406.10 564.10 410.10 M563.50 399.63 C566.20 401.13 567.60 404.23 567.10 408.23 M566.50 397.76 C569.20 399.26 570.60 402.36 570.10 406.36"/>
</g>
</svg>
</body></html>
